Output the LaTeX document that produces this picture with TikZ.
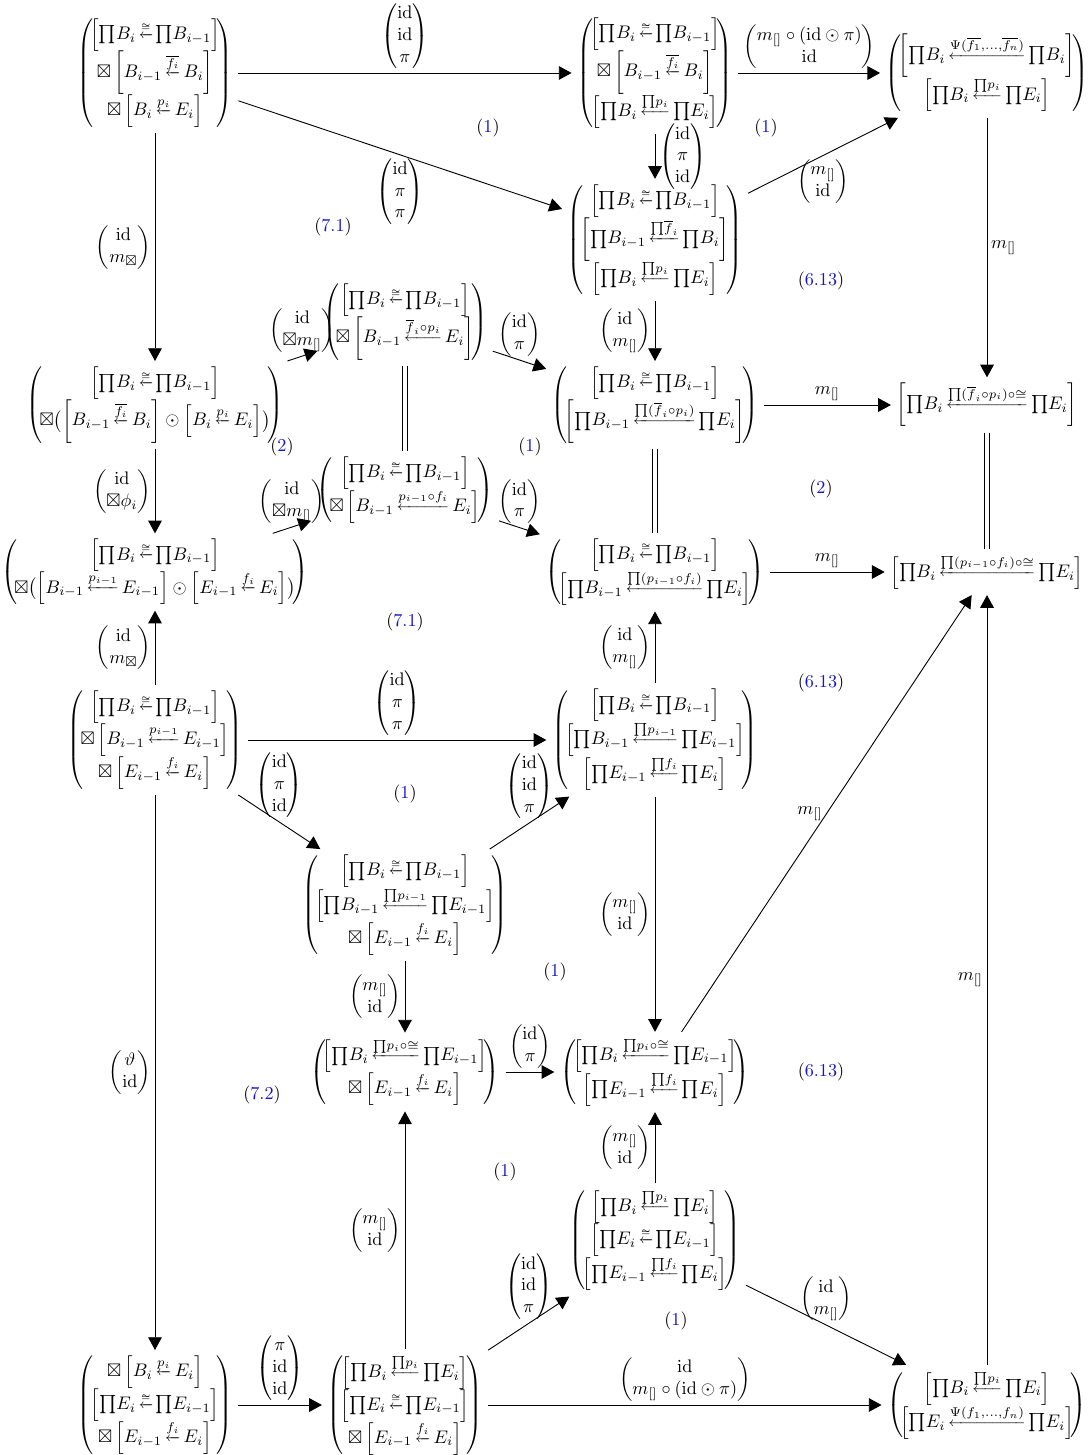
\documentclass[tikz,border=0pt]{standalone}
\usepackage{amsmath,amssymb}
\usepackage{xcolor}
\usepackage{tikz}
\usetikzlibrary{arrows.meta}
\definecolor{refblue}{HTML}{1414C8}
\newlength{\arrwd}
\newcommand{\larr}[1]{%
  \settowidth{\arrwd}{$\scriptstyle #1$}%
  \addtolength{\arrwd}{1.5pt}%
  \ifdim\arrwd<7.5pt\setlength{\arrwd}{7.5pt}\fi
  \mathop{\raise0.6pt\hbox to \arrwd{\scriptsize\leftarrowfill}}\limits^{#1}}
\newenvironment{tup}{\left(\mkern-3mu\begin{matrix}}{\end{matrix}\mkern-3mu\right)}
\newcommand{\iso}{{\scriptscriptstyle\cong}}
\newcommand{\pd}{\mathord{\prod}}
\newcommand{\mbr}{m_{[]}}
\newcommand{\idm}{\mathrm{id}}
\newcommand{\refno}[1]{(\textcolor{refblue}{#1})}

\begin{document}
\begin{tikzpicture}[x=0.55pt, y=-0.55pt]
    \tikzstyle{obj} = [inner sep=3pt]
    \tikzstyle{map} = [-{Triangle[length=7pt, width=7.5pt]}, line width=0.5pt]
    \tikzstyle{same} = [double, double distance=2pt, line width=0.4pt]
    \tikzstyle{lbl} = [inner sep=2pt]

    \useasboundingbox (0,0) rectangle (1089,1455);

    % objects
    \node (n1) [obj] at (155,73) {$\begin{tup}
      \left[\pd B_i \larr{\iso} \pd B_{i-1}\right]\\
      \boxtimes\left[B_{i-1} \larr{\overline{f_i}} B_i\right]\\
      \boxtimes\left[B_i \larr{p_i} E_i\right]\end{tup}$};
    \node (n2) [obj] at (655,73) {$\begin{tup}
      \left[\pd B_i \larr{\iso} \pd B_{i-1}\right]\\
      \boxtimes\left[B_{i-1} \larr{\overline{f_i}} B_i\right]\\
      \left[\pd B_i \larr{\pd p_i} \pd E_i\right]\end{tup}$};
    \node (n3) [obj] at (987,73) {$\begin{tup}
      \left[\pd B_i \larr{\Psi(\overline{f_1},\dots,\overline{f_n})} \pd B_i\right]\\
      \left[\pd B_i \larr{\pd p_i} \pd E_i\right]\end{tup}$};
    \node (n4) [obj] at (655,240) {$\begin{tup}
      \left[\pd B_i \larr{\iso} \pd B_{i-1}\right]\\
      \left[\pd B_{i-1} \larr{\pd\overline{f}_i} \pd B_i\right]\\
      \left[\pd B_i \larr{\pd p_i} \pd E_i\right]\end{tup}$};
    \node (n5) [obj] at (155,405) {$\begin{tup}
      \left[\pd B_i \larr{\iso} \pd B_{i-1}\right]\\
      \boxtimes\bigl(\left[B_{i-1} \larr{\overline{f_i}} B_i\right]\odot\left[B_i \larr{p_i} E_i\right]\bigr)\end{tup}$};
    \node (n6) [obj] at (405,322) {$\begin{tup}
      \left[\pd B_i \larr{\iso} \pd B_{i-1}\right]\\
      \boxtimes\left[B_{i-1} \larr{\overline{f}_i\circ p_i} E_i\right]\end{tup}$};
    \node (n7) [obj] at (655,405) {$\begin{tup}
      \left[\pd B_i \larr{\iso} \pd B_{i-1}\right]\\
      \left[\pd B_{i-1} \larr{\pd(\overline{f}_i\circ p_i)} \pd E_i\right]\end{tup}$};
    \node (n8) [obj] at (987,405) {$\left[\pd B_i \larr{\pd(\overline{f}_i\circ p_i)\circ\cong} \pd E_i\right]$};
    \node (n9) [obj] at (405,490) {$\begin{tup}
      \left[\pd B_i \larr{\iso} \pd B_{i-1}\right]\\
      \boxtimes\left[B_{i-1} \larr{p_{i-1}\circ f_i} E_i\right]\end{tup}$};
    \node (n10) [obj] at (155,572) {$\begin{tup}
      \left[\pd B_i \larr{\iso} \pd B_{i-1}\right]\\
      \boxtimes\bigl(\left[B_{i-1} \larr{p_{i-1}} E_{i-1}\right]\odot\left[E_{i-1} \larr{f_i} E_i\right]\bigr)\end{tup}$};
    \node (n11) [obj] at (655,572) {$\begin{tup}
      \left[\pd B_i \larr{\iso} \pd B_{i-1}\right]\\
      \left[\pd B_{i-1} \larr{\pd(p_{i-1}\circ f_i)} \pd E_i\right]\end{tup}$};
    \node (n12) [obj] at (987,572) {$\left[\pd B_i \larr{\pd(p_{i-1}\circ f_i)\circ\cong} \pd E_i\right]$};
    \node (n13) [obj] at (155,740) {$\begin{tup}
      \left[\pd B_i \larr{\iso} \pd B_{i-1}\right]\\
      \boxtimes\left[B_{i-1} \larr{p_{i-1}} E_{i-1}\right]\\
      \boxtimes\left[E_{i-1} \larr{f_i} E_i\right]\end{tup}$};
    \node (n14) [obj] at (655,740) {$\begin{tup}
      \left[\pd B_i \larr{\iso} \pd B_{i-1}\right]\\
      \left[\pd B_{i-1} \larr{\pd p_{i-1}} \pd E_{i-1}\right]\\
      \left[\pd E_{i-1} \larr{\pd f_i} \pd E_i\right]\end{tup}$};
    \node (n15) [obj] at (405,905) {$\begin{tup}
      \left[\pd B_i \larr{\iso} \pd B_{i-1}\right]\\
      \left[\pd B_{i-1} \larr{\pd p_{i-1}} \pd E_{i-1}\right]\\
      \boxtimes\left[E_{i-1} \larr{f_i} E_i\right]\end{tup}$};
    \node (n16) [obj] at (405,1072) {$\begin{tup}
      \left[\pd B_i \larr{\pd p_i\circ\cong} \pd E_{i-1}\right]\\
      \boxtimes\left[E_{i-1} \larr{f_i} E_i\right]\end{tup}$};
    \node (n17) [obj] at (655,1072) {$\begin{tup}
      \left[\pd B_i \larr{\pd p_i\circ\cong} \pd E_{i-1}\right]\\
      \left[\pd E_{i-1} \larr{\pd f_i} \pd E_i\right]\end{tup}$};
    \node (n18) [obj] at (655,1240) {$\begin{tup}
      \left[\pd B_i \larr{\pd p_i} \pd E_i\right]\\
      \left[\pd E_i \larr{\iso} \pd E_{i-1}\right]\\
      \left[\pd E_{i-1} \larr{\pd f_i} \pd E_i\right]\end{tup}$};
    \node (n19) [obj] at (155,1405) {$\begin{tup}
      \boxtimes\left[B_i \larr{p_i} E_i\right]\\
      \left[\pd E_i \larr{\iso} \pd E_{i-1}\right]\\
      \boxtimes\left[E_{i-1} \larr{f_i} E_i\right]\end{tup}$};
    \node (n20) [obj] at (405,1405) {$\begin{tup}
      \left[\pd B_i \larr{\pd p_i} \pd E_i\right]\\
      \left[\pd E_i \larr{\iso} \pd E_{i-1}\right]\\
      \boxtimes\left[E_{i-1} \larr{f_i} E_i\right]\end{tup}$};
    \node (n21) [obj] at (987,1405) {$\begin{tup}
      \left[\pd B_i \larr{\pd p_i} \pd E_i\right]\\
      \left[\pd E_i \larr{\Psi(f_1,\dots,f_n)} \pd E_i\right]\end{tup}$};

    % maps
    \draw [map] (n1) -- (n2) node[midway, above, lbl] {$\begin{pmatrix}\idm\\\idm\\\pi\end{pmatrix}$};
    \draw [map] (n1) -- (n4) node[midway, below, lbl] {$\begin{pmatrix}\idm\\\pi\\\pi\end{pmatrix}$};
    \draw [map] (n2) -- (n3) node[midway, above, lbl] {$\begin{pmatrix}\mbr\circ(\idm\odot\pi)\\\idm\end{pmatrix}$};
    \draw [map] (n2) -- (n4) node[midway, right, lbl] {$\begin{pmatrix}\idm\\\pi\\\idm\end{pmatrix}$};
    \draw [map] (n4) -- (n3) node[midway, below, lbl] {$\begin{pmatrix}\mbr\\\idm\end{pmatrix}$};
    \draw [map] (n3) -- (n8) node[midway, right, lbl] {$\mbr$};
    \draw [map] (n1) -- (n5) node[midway, left, lbl] {$\begin{pmatrix}\idm\\m_{\boxtimes}\end{pmatrix}$};
    \draw [map] (n5) -- (n6) node[midway, above, lbl] {$\begin{pmatrix}\idm\\\boxtimes\mbr\end{pmatrix}$};
    \draw [map] (n6) -- (n7) node[midway, above, lbl] {$\begin{pmatrix}\idm\\\pi\end{pmatrix}$};
    \draw [map] (n4) -- (n7) node[midway, left, lbl] {$\begin{pmatrix}\idm\\\mbr\end{pmatrix}$};
    \draw [map] (n7) -- (n8) node[midway, above, lbl] {$\mbr$};
    \draw [map] (n5) -- (n10) node[midway, left, lbl] {$\begin{pmatrix}\idm\\\boxtimes\phi_i\end{pmatrix}$};
    \draw [map] (n10) -- (n9) node[midway, above, lbl] {$\begin{pmatrix}\idm\\\boxtimes\mbr\end{pmatrix}$};
    \draw [map] (n9) -- (n11) node[midway, above, lbl] {$\begin{pmatrix}\idm\\\pi\end{pmatrix}$};
    \draw [map] (n11) -- (n12) node[midway, above, lbl] {$\mbr$};
    \draw [same] (n6) -- (n9);
    \draw [same] (n7) -- (n11);
    \draw [same] (n8) -- (n12);
    \draw [map] (n13) -- (n10) node[midway, left, lbl] {$\begin{pmatrix}\idm\\m_{\boxtimes}\end{pmatrix}$};
    \draw [map] (n14) -- (n11) node[midway, left, lbl] {$\begin{pmatrix}\idm\\\mbr\end{pmatrix}$};
    \draw [map] (n13) -- (n14) node[midway, above, lbl] {$\begin{pmatrix}\idm\\\pi\\\pi\end{pmatrix}$};
    \draw [map] (n13) -- (n15) node[midway, above, lbl] {$\begin{pmatrix}\idm\\\pi\\\idm\end{pmatrix}$};
    \draw [map] (n15) -- (n14) node[midway, above, lbl] {$\begin{pmatrix}\idm\\\idm\\\pi\end{pmatrix}$};
    \draw [map] (n14) -- (n17) node[midway, left, lbl] {$\begin{pmatrix}\mbr\\\idm\end{pmatrix}$};
    \draw [map] (n17) -- (n12) node[midway, left, lbl] {$\mbr$};
    \draw [map] (n15) -- (n16) node[midway, left, lbl] {$\begin{pmatrix}\mbr\\\idm\end{pmatrix}$};
    \draw [map] (n16) -- (n17) node[midway, above, lbl] {$\begin{pmatrix}\idm\\\pi\end{pmatrix}$};
    \draw [map] (n18) -- (n17) node[midway, left, lbl] {$\begin{pmatrix}\mbr\\\idm\end{pmatrix}$};
    \draw [map] (n20) -- (n16) node[midway, left, lbl] {$\begin{pmatrix}\mbr\\\idm\end{pmatrix}$};
    \draw [map] (n13) -- (n19) node[midway, left, lbl] {$\begin{pmatrix}\vartheta\\\idm\end{pmatrix}$};
    \draw [map] (n19) -- (n20) node[midway, above, lbl] {$\begin{pmatrix}\pi\\\idm\\\idm\end{pmatrix}$};
    \draw [map] (n20) -- (n18) node[midway, above, lbl] {$\begin{pmatrix}\idm\\\idm\\\pi\end{pmatrix}$};
    \draw [map] (n18) -- (n21) node[midway, above, lbl] {$\begin{pmatrix}\idm\\\mbr\end{pmatrix}$};
    \draw [map] (n20) -- (n21) node[midway, above, lbl] {$\begin{pmatrix}\idm\\\mbr\circ(\idm\odot\pi)\end{pmatrix}$};
    \draw [map] (n21) -- (n12) node[midway, left, lbl] {$\mbr$};

    % cells
    \node (c1) at (488,128) {\refno{1}};
    \node (c2) at (766,128) {\refno{1}};
    \node (c3) at (333,227) {\refno{7.1}};
    \node (c4) at (821,281) {\refno{6.13}};
    \node (c5) at (282,447) {\refno{2}};
    \node (c6) at (530,447) {\refno{1}};
    \node (c7) at (821,489) {\refno{2}};
    \node (c8) at (405,622) {\refno{7.1}};
    \node (c9) at (821,683) {\refno{6.13}};
    \node (c10) at (405,794) {\refno{1}};
    \node (c11) at (555,972) {\refno{1}};
    \node (c12) at (821,1072) {\refno{6.13}};
    \node (c13) at (262,1095) {\refno{7.2}};
    \node (c14) at (505,1172) {\refno{1}};
    \node (c15) at (676,1321) {\refno{1}};
\end{tikzpicture}
\end{document}
